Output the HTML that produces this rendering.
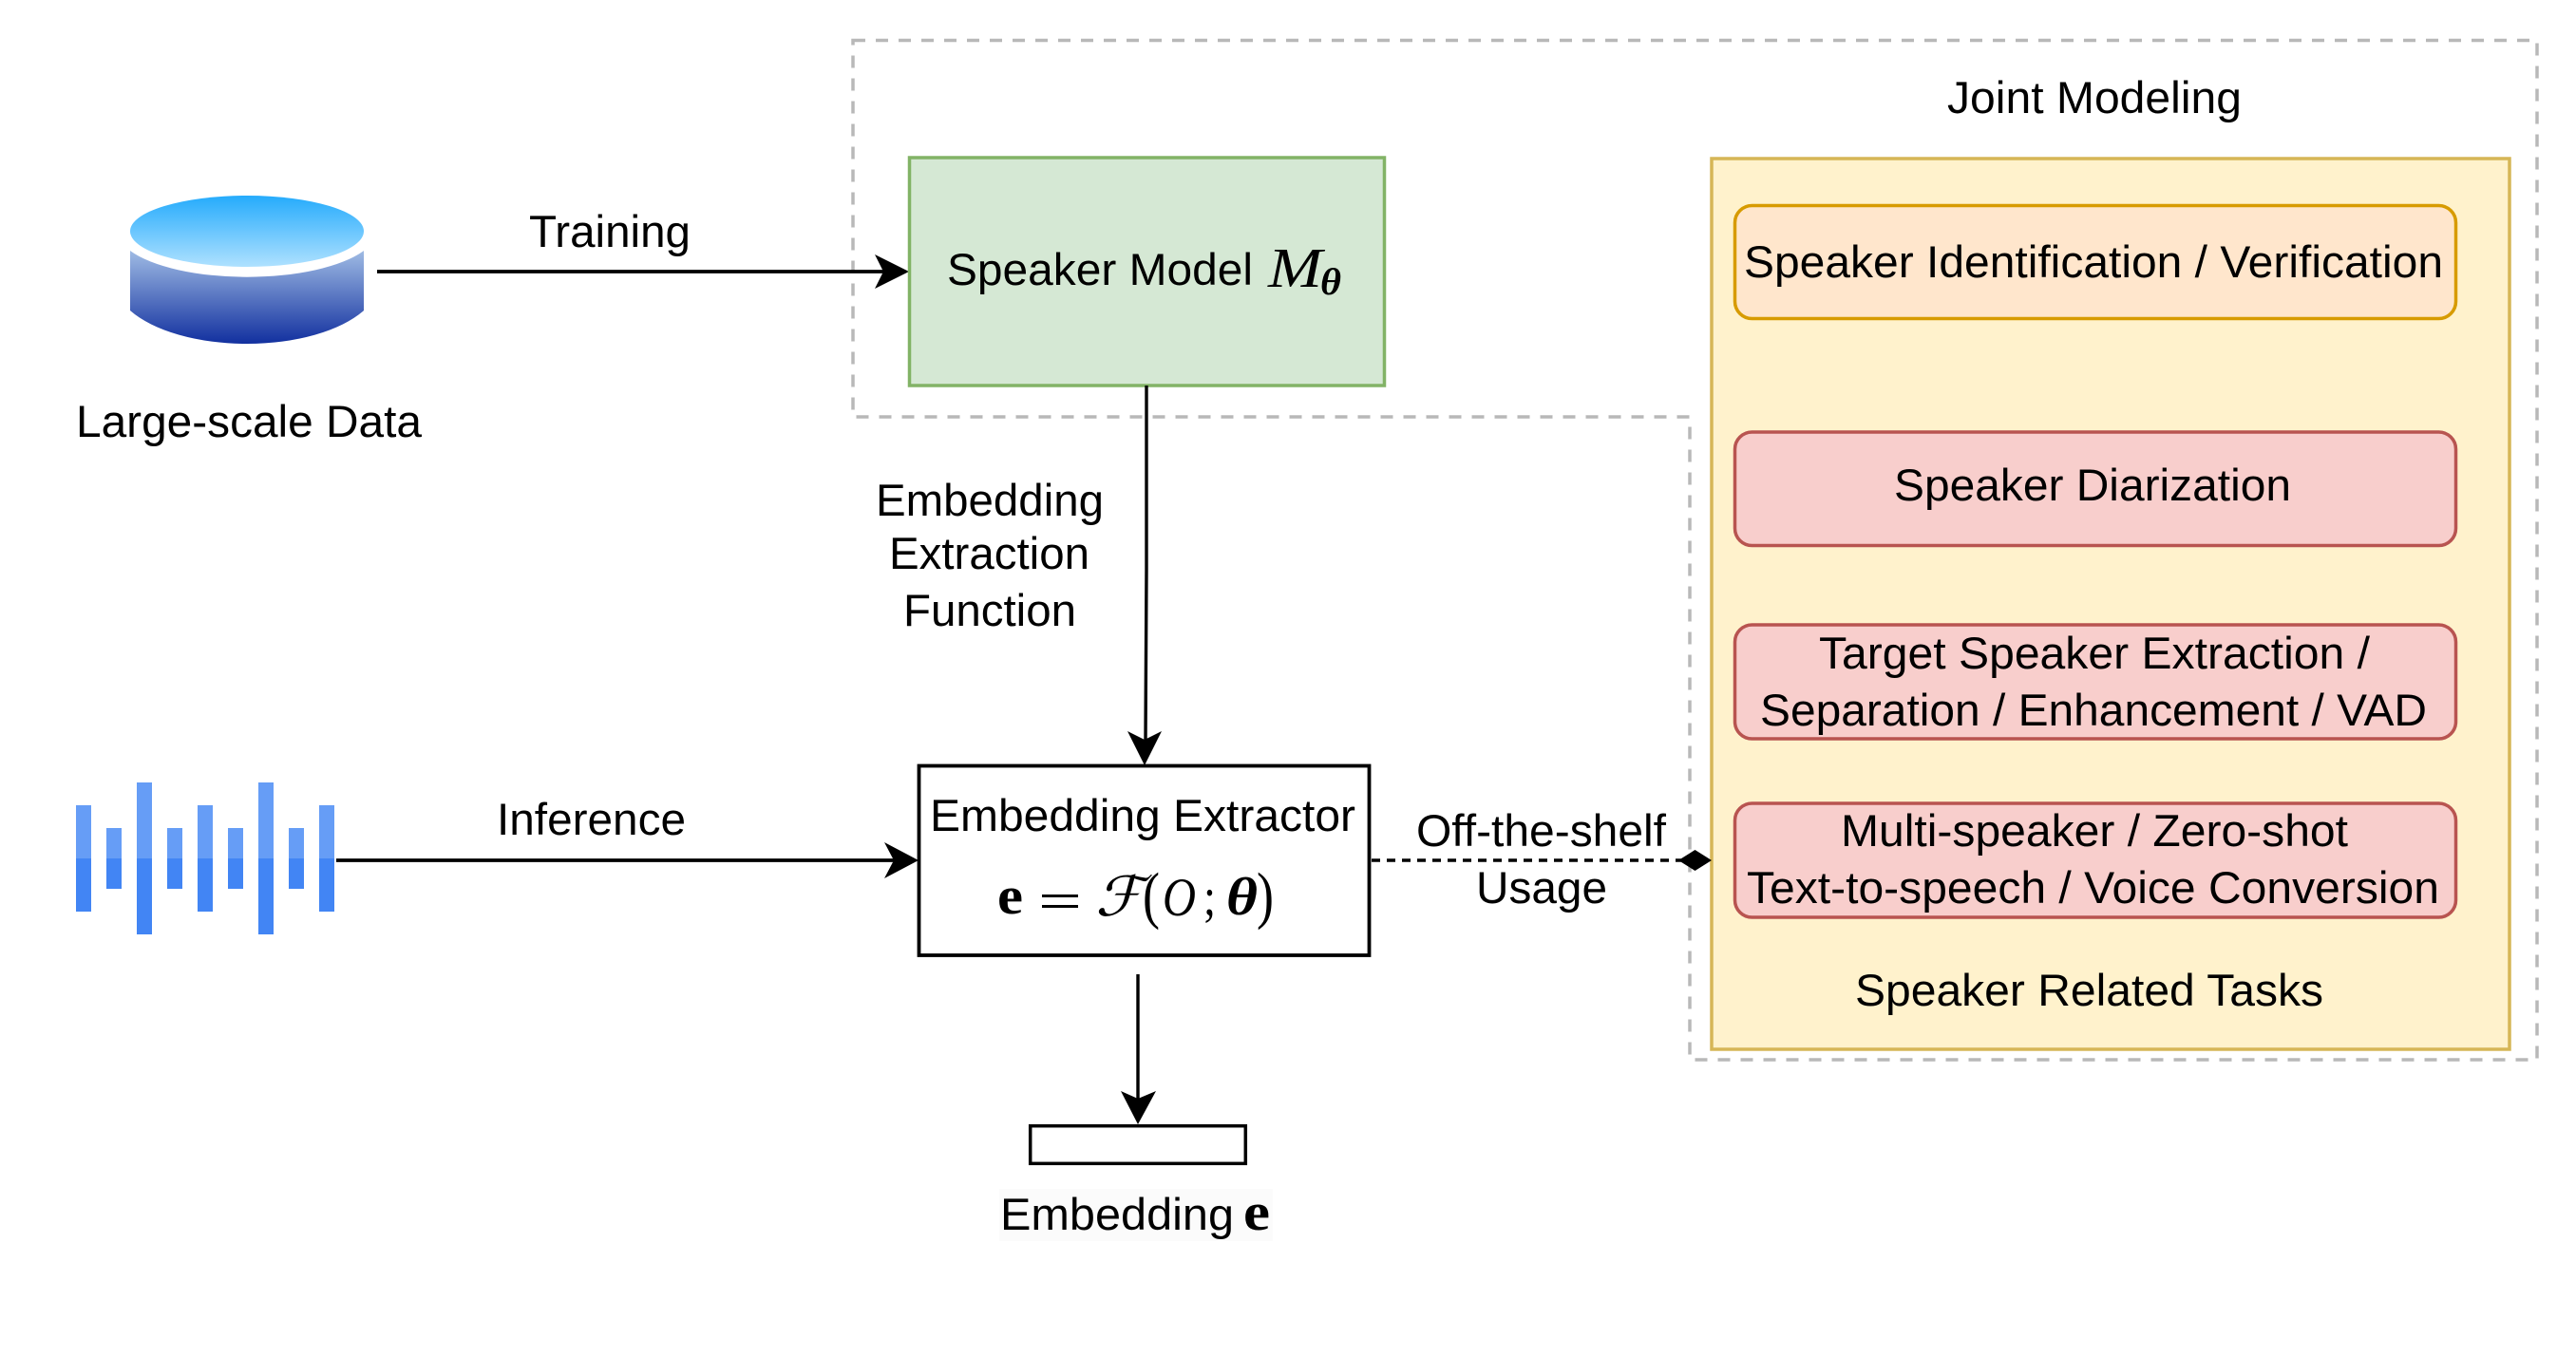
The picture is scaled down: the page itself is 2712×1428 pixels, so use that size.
<!DOCTYPE html>
<html>
<head>
<meta charset="utf-8">
<style>
html,body{margin:0;padding:0;background:#fff}
svg{display:block}
text{font-family:"Liberation Sans",Arial,sans-serif;font-size:47px;fill:#000}
.m{font-family:"Liberation Serif",serif}
</style>
</head>
<body>
<svg width="2712" height="1428" viewBox="0 0 2712 1428" xmlns="http://www.w3.org/2000/svg">
<defs>
<linearGradient id="g1" x1="0" y1="0" x2="0" y2="1"><stop offset="0" stop-color="#25abfc"/><stop offset="1" stop-color="#afe1ff"/></linearGradient>
<linearGradient id="g2" x1="0" y1="0" x2="0" y2="1"><stop offset="0" stop-color="#9fbbe4"/><stop offset="1" stop-color="#12309f"/></linearGradient>
</defs>
<rect width="2712" height="1428" fill="#fff"/>

<!-- outer dashed -->
<path d="M898,42.5 H2671 V1116 H1779 V439 H898 Z" fill="none" stroke="#b8b8b8" stroke-width="3.5" stroke-dasharray="13 11"/>

<!-- cylinder -->
<ellipse cx="260" cy="243.5" rx="123" ry="37.5" fill="url(#g1)"/>
<path d="M137,264 A137,49.5 0 0 0 383,264 V327 A140,67 0 0 1 137,327 Z" fill="url(#g2)"/>
<text x="80" y="460" textLength="364" lengthAdjust="spacingAndGlyphs">Large-scale Data</text>

<!-- training arrow -->
<line x1="397" y1="286" x2="935" y2="286" stroke="#000" stroke-width="3.8"/>
<polygon points="957,286 921,268 930,286 921,304" fill="#000"/>
<text x="557" y="260" textLength="170" lengthAdjust="spacingAndGlyphs">Training</text>

<!-- green box -->
<rect x="957.5" y="166" width="500" height="240" fill="#d5e8d4" stroke="#82b366" stroke-width="3.5"/>
<text x="997" y="300" textLength="322" lengthAdjust="spacingAndGlyphs">Speaker Model</text>
<text class="m" x="1335" y="302" style="font-size:59px;font-style:italic" textLength="57" lengthAdjust="spacingAndGlyphs">M</text>
<text class="m" x="1390" y="310" style="font-size:40px;font-style:italic;font-weight:bold" textLength="22" lengthAdjust="spacingAndGlyphs">θ</text>

<!-- vertical connector -->
<polyline points="1207,406 1207,600 1206,780" fill="none" stroke="#000" stroke-width="3.4"/>
<polygon points="1205,806 1187,770 1205,779 1223,770" fill="#000"/>
<text x="922" y="543" textLength="240" lengthAdjust="spacingAndGlyphs">Embedding</text>
<text x="936" y="599" textLength="211" lengthAdjust="spacingAndGlyphs">Extraction</text>
<text x="951" y="659" textLength="182" lengthAdjust="spacingAndGlyphs">Function</text>

<!-- waveform -->
<g fill="#669df6">
<rect x="80" y="848" width="16" height="56"/><rect x="112" y="872" width="16" height="32"/><rect x="144" y="824" width="16" height="80"/><rect x="176" y="872" width="16" height="32"/><rect x="208" y="848" width="16" height="56"/><rect x="240" y="872" width="16" height="32"/><rect x="272" y="824" width="16" height="80"/><rect x="304" y="872" width="16" height="32"/><rect x="336" y="848" width="16" height="56"/>
</g>
<g fill="#4285f4">
<rect x="80" y="904" width="16" height="56"/><rect x="112" y="904" width="16" height="32"/><rect x="144" y="904" width="16" height="80"/><rect x="176" y="904" width="16" height="32"/><rect x="208" y="904" width="16" height="56"/><rect x="240" y="904" width="16" height="32"/><rect x="272" y="904" width="16" height="80"/><rect x="304" y="904" width="16" height="32"/><rect x="336" y="904" width="16" height="56"/>
</g>

<!-- inference arrow -->
<line x1="354" y1="906" x2="945" y2="906" stroke="#000" stroke-width="3.8"/>
<polygon points="967,906 931,887 941,906 931,925" fill="#000"/>
<text x="523" y="879" textLength="199" lengthAdjust="spacingAndGlyphs">Inference</text>

<!-- extractor -->
<rect x="967.5" y="806.5" width="474" height="199.5" fill="#fff" stroke="#000" stroke-width="3.8"/>
<text x="979" y="875" textLength="448" lengthAdjust="spacingAndGlyphs">Embedding Extractor</text>
<text class="m" x="1050" y="962" style="font-size:56px;font-weight:bold" textLength="27" lengthAdjust="spacingAndGlyphs">e</text>
<rect x="1097" y="942" width="38" height="3"/>
<rect x="1097" y="953" width="38" height="3"/>
<text class="m" x="1153" y="964" style="font-size:58px;font-style:italic;font-family:'DejaVu Serif','Liberation Serif',serif" textLength="50" lengthAdjust="spacingAndGlyphs">ℱ</text>
<text class="m" x="1203" y="965" style="font-size:67px" textLength="18" lengthAdjust="spacingAndGlyphs">(</text>
<text class="m" x="1224" y="964" style="font-size:57px;font-style:italic" textLength="35" lengthAdjust="spacingAndGlyphs">O</text>
<text class="m" x="1267" y="963" style="font-size:56px" textLength="13" lengthAdjust="spacingAndGlyphs">;</text>
<text class="m" x="1291" y="963" style="font-size:56px;font-style:italic;font-weight:bold" textLength="33" lengthAdjust="spacingAndGlyphs">θ</text>
<text class="m" x="1323" y="965" style="font-size:67px" textLength="18" lengthAdjust="spacingAndGlyphs">)</text>

<!-- down arrow and embedding -->
<line x1="1198" y1="1026" x2="1198" y2="1160" stroke="#000" stroke-width="3.4"/>
<polygon points="1198,1184 1180,1149 1198,1157 1217,1149" fill="#000"/>
<rect x="1084.7" y="1185.7" width="226.6" height="39.6" fill="#fff" stroke="#000" stroke-width="3.5"/>
<rect x="1052" y="1252" width="288" height="55" fill="#fbfbfb"/>
<text x="1053" y="1295" textLength="246" lengthAdjust="spacingAndGlyphs">Embedding</text>
<text class="m" x="1309" y="1295" style="font-size:56px;font-weight:bold" textLength="28" lengthAdjust="spacingAndGlyphs">e</text>

<!-- dashed off-the-shelf -->
<line x1="1444" y1="906" x2="1770" y2="906" stroke="#000" stroke-width="3.6" stroke-dasharray="9 7"/>
<text x="1491" y="891" textLength="263" lengthAdjust="spacingAndGlyphs">Off-the-shelf</text>
<text x="1554" y="951" textLength="138" lengthAdjust="spacingAndGlyphs">Usage</text>

<!-- yellow box -->
<rect x="1810" y="166" width="832" height="939" fill="#fff2cc"/>
<rect x="1802" y="167" width="840" height="938" fill="#fff2cc" stroke="#d6b656" stroke-width="3.5"/>
<polygon points="1767,906 1784.5,895 1802,906 1784.5,917" fill="#000"/>
<text x="2050" y="119" textLength="310" lengthAdjust="spacingAndGlyphs">Joint Modeling</text>

<rect x="1826.5" y="216.5" width="759" height="119" rx="18" ry="18" fill="#ffe6cc" stroke="#d79b00" stroke-width="3.5"/>
<text x="1836" y="292" textLength="736" lengthAdjust="spacingAndGlyphs">Speaker Identification / Verification</text>

<rect x="1826.5" y="455" width="759" height="119.5" rx="18" ry="18" fill="#f8cecc" stroke="#b85450" stroke-width="3.5"/>
<text x="1994" y="527" textLength="418" lengthAdjust="spacingAndGlyphs">Speaker Diarization</text>

<rect x="1826.5" y="658" width="759" height="120" rx="18" ry="18" fill="#f8cecc" stroke="#b85450" stroke-width="3.5"/>
<text x="1915" y="704" textLength="580" lengthAdjust="spacingAndGlyphs">Target Speaker Extraction /</text>
<text x="1853" y="764" textLength="702" lengthAdjust="spacingAndGlyphs">Separation / Enhancement / VAD</text>

<rect x="1826.5" y="846" width="759" height="120" rx="18" ry="18" fill="#f8cecc" stroke="#b85450" stroke-width="3.5"/>
<text x="1938" y="891" textLength="534" lengthAdjust="spacingAndGlyphs">Multi-speaker / Zero-shot</text>
<text x="1839" y="951" textLength="729" lengthAdjust="spacingAndGlyphs">Text-to-speech / Voice Conversion</text>

<text x="1953" y="1059" textLength="493" lengthAdjust="spacingAndGlyphs">Speaker Related Tasks</text>
</svg>
</body>
</html>
